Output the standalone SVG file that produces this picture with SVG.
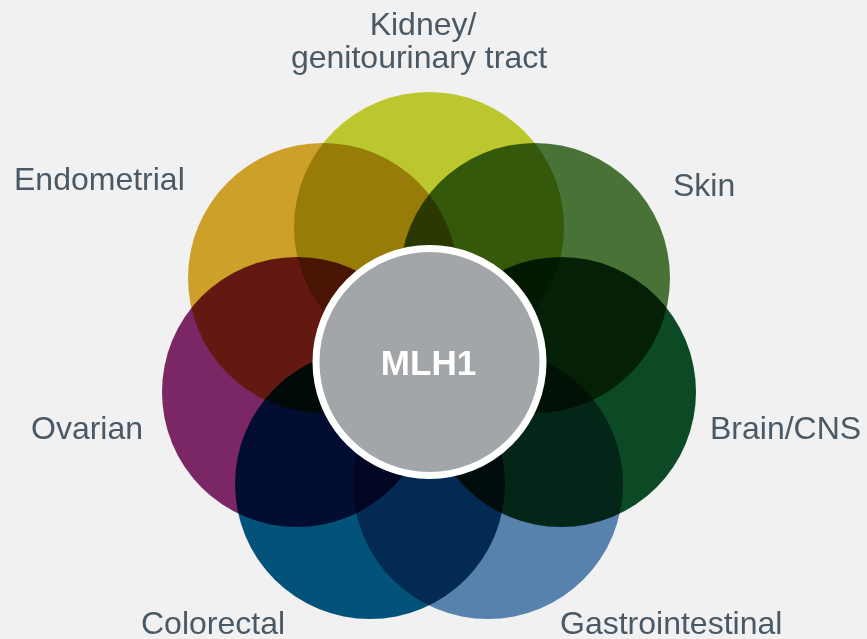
<svg xmlns="http://www.w3.org/2000/svg" width="867" height="639" viewBox="0 0 867 639">
<style>
.petal{mix-blend-mode:multiply}
.lbl{font-family:"Liberation Sans",Arial,Helvetica,sans-serif;font-size:32px;fill:#4A5966}
.core{fill:#A3A6A8;stroke:#FFFFFF;stroke-width:7}
.coretxt{font-family:"Liberation Sans",Arial,Helvetica,sans-serif;font-size:35px;font-weight:bold;fill:#FFFFFF}
</style>
<rect width="867" height="639" fill="#F1F1F1"/>
<g id="diagram" style="isolation:isolate">
<g id="kidney">
<circle class="petal" cx="429" cy="227" r="135" fill="#BCC72D"/>
<text class="lbl" x="423" y="35" text-anchor="middle">Kidney/</text>
<text class="lbl" x="419" y="68" text-anchor="middle">genitourinary tract</text>
</g>
<g id="skin">
<circle class="petal" cx="535" cy="278" r="135" fill="#487236"/>
<text class="lbl" x="673" y="196">Skin</text>
</g>
<g id="brain">
<circle class="petal" cx="561" cy="392" r="135" fill="#0B4A24"/>
<text class="lbl" x="710" y="439">Brain/CNS</text>
</g>
<g id="gastro">
<circle class="petal" cx="488" cy="484" r="135" fill="#5882AE"/>
<text class="lbl" x="560" y="634">Gastrointestinal</text>
</g>
<g id="colorectal">
<circle class="petal" cx="370" cy="484" r="135" fill="#03527A"/>
<text class="lbl" x="141" y="634">Colorectal</text>
</g>
<g id="ovarian">
<circle class="petal" cx="297" cy="392" r="135" fill="#7B2766"/>
<text class="lbl" x="31" y="439">Ovarian</text>
</g>
<g id="endometrial">
<circle class="petal" cx="323" cy="278" r="135" fill="#CDA02A"/>
<text class="lbl" x="14" y="190">Endometrial</text>
</g>
<g id="mlh1">
<circle class="core" cx="429.5" cy="362" r="113.5"/>
<text class="coretxt" x="428.5" y="375" text-anchor="middle">MLH1</text>
</g>
</g>
<g id="connectors"/>
</svg>
